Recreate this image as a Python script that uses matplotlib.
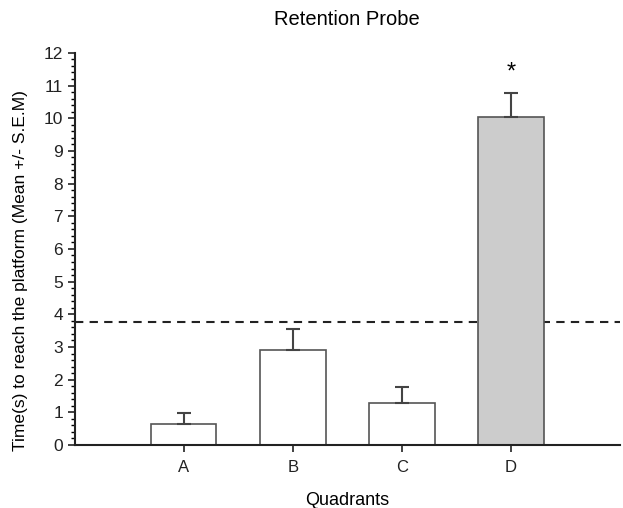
"""Bar chart of retention probe times per quadrant."""
import matplotlib
matplotlib.use("Agg")
import matplotlib.pyplot as plt
from matplotlib.ticker import MultipleLocator

plt.rcParams["font.family"] = ["Liberation Sans", "DejaVu Sans"]

# mean time and SEM per quadrant
quadrants = ["A", "B", "C", "D"]
mean_time = [0.65, 2.92, 1.30, 10.04]
sem = [0.32, 0.62, 0.47, 0.73]
bar_colors = ["white", "white", "white", "#cccccc"]
chance_level = 3.75

fig = plt.figure(figsize=(6.23, 5.08), dpi=100)
ax = fig.add_axes([0.12, 0.124, 0.875, 0.772])

x = list(range(1, len(quadrants) + 1))
ax.bar(x, mean_time, width=0.6, color=bar_colors, edgecolor="#555555",
       linewidth=1.2, zorder=2)
ax.errorbar(x, mean_time, yerr=[[0] * len(sem), sem], fmt="none",
            ecolor="#444444", elinewidth=1.5, capsize=5, capthick=1.5, zorder=3)

# significance marker above D
ax.text(x[3], mean_time[3] + sem[3] + 0.62, "*", ha="center", va="center",
        fontsize=17)

ax.axhline(chance_level, color="#222222", linestyle=(0, (4, 3)), linewidth=1.5,
           zorder=1)

ax.set_xlim(0, 5)
ax.set_ylim(0, 12)
ax.set_xticks(x)
ax.set_xticklabels(quadrants)
ax.yaxis.set_major_locator(MultipleLocator(1))
ax.yaxis.set_minor_locator(MultipleLocator(0.2))
ax.tick_params(axis="both", which="major", direction="out", length=5,
               width=1.2, labelsize=12.5, colors="#222222")
ax.tick_params(axis="x", labelsize=12, pad=6)
ax.tick_params(axis="y", which="minor", direction="out", length=3, width=1)

for side in ["top", "right"]:
    ax.spines[side].set_visible(False)
for side in ["left", "bottom"]:
    ax.spines[side].set_linewidth(1.5)
    ax.spines[side].set_color("#222222")

ax.set_xlabel("Quadrants", fontsize=13, labelpad=12)
ax.set_ylabel("Time(s) to reach the platform (Mean +/- S.E.M)", fontsize=12.5,
              labelpad=6)
ax.yaxis.set_label_coords(-0.085, 0.445)
ax.set_title("Retention Probe", fontsize=14.5, pad=20)

fig.savefig("out.png", dpi=100)
